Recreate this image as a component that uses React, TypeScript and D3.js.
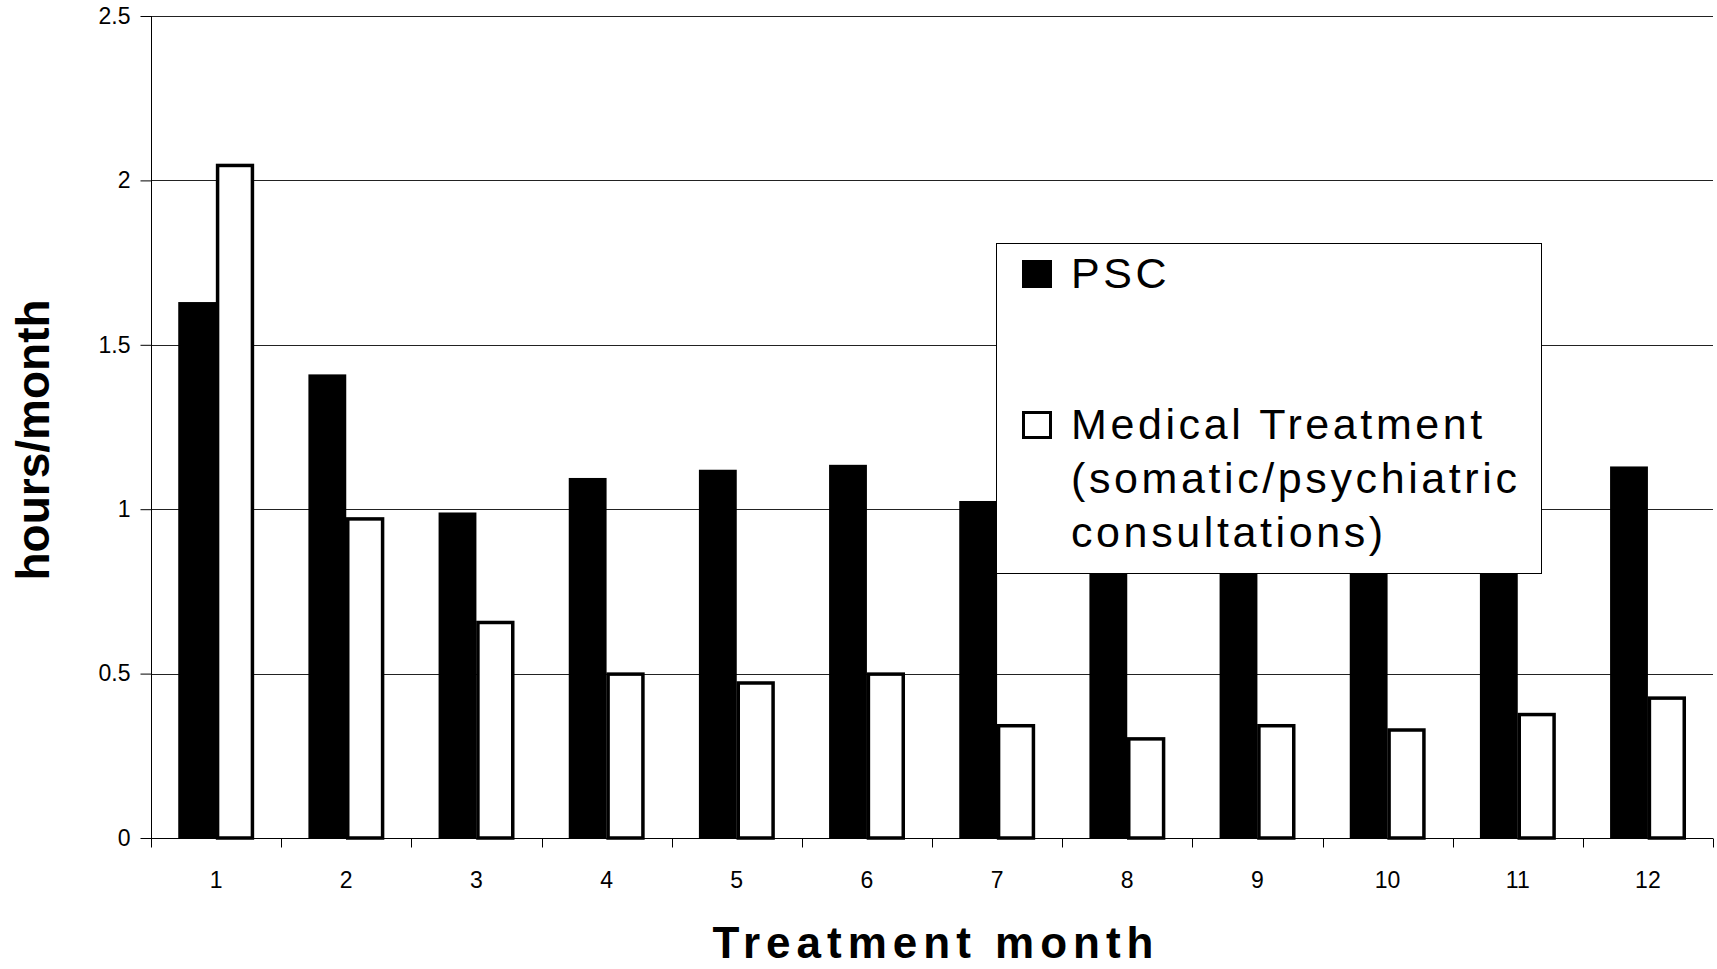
import React, { useEffect, useRef } from 'react';
import * as d3 from 'd3';

const months = ['1', '2', '3', '4', '5', '6', '7', '8', '9', '10', '11', '12'];
const pscHours = [1.63, 1.41, 0.99, 1.095, 1.12, 1.135, 1.025, 1.04, 1.07, 1.03, 1.08, 1.13];
const medicalHours = [2.05, 0.975, 0.66, 0.503, 0.476, 0.503, 0.346, 0.306, 0.346, 0.333, 0.38, 0.43];
const yTicks = [0, 0.5, 1, 1.5, 2, 2.5];
const seriesKeys = ['psc', 'medical'];
const legendLines = [['PSC'], ['Medical Treatment', '(somatic/psychiatric', 'consultations)']];

const FONT = '"Liberation Sans", Arial, Helvetica, sans-serif';

const App: React.FC = () => {
    const chartRef = useRef<SVGSVGElement | null>(null);

    useEffect(() => {
        if (!chartRef.current) return;
        const svg = d3.select(chartRef.current);
        svg.selectAll('*').remove();

        const width = 1717;
        const height = 969;
        const margin = { top: 16, right: 4, bottom: 131, left: 151 };

        svg.attr('width', width).attr('height', height).style('font-family', FONT);

        const x = d3.scaleBand()
            .domain(months)
            .range([margin.left, width - margin.right])
            .padding(0);

        const inner = d3.scaleBand()
            .domain(seriesKeys)
            .range([0, x.step()])
            .paddingInner(0)
            .paddingOuter(0.72);

        const y = d3.scaleLinear()
            .domain([0, 2.5])
            .range([height - margin.bottom, margin.top]);

        // gridlines
        svg.append('g')
            .selectAll('line')
            .data(yTicks.filter(d => d > 0))
            .enter().append('line')
            .attr('x1', margin.left)
            .attr('x2', width - margin.right)
            .attr('y1', d => Math.round(y(d)) + 0.5)
            .attr('y2', d => Math.round(y(d)) + 0.5)
            .attr('stroke', '#222')
            .attr('stroke-width', 1);

        const data = months.map((m, i) => ({ month: m, psc: pscHours[i], medical: medicalHours[i] }));

        const groups = svg.append('g')
            .selectAll('g')
            .data(data)
            .enter().append('g')
            .attr('transform', d => `translate(${x(d.month)},0)`);

        groups.append('rect')
            .attr('x', inner('psc') as number)
            .attr('y', d => y(d.psc))
            .attr('width', inner.bandwidth())
            .attr('height', d => y(0) - y(d.psc))
            .attr('fill', '#000');

        groups.append('rect')
            .attr('x', (inner('medical') as number) + 1.5)
            .attr('y', d => y(d.medical) + 1.5)
            .attr('width', inner.bandwidth() - 3)
            .attr('height', d => y(0) - y(d.medical) - 1.5)
            .attr('fill', '#fff')
            .attr('stroke', '#000')
            .attr('stroke-width', 3.5);

        // y axis
        const yAxis = svg.append('g')
            .attr('transform', `translate(${margin.left + 0.5},0)`)
            .call(d3.axisLeft(y).tickValues(yTicks).tickFormat(d => String(d)).tickSize(11).tickPadding(10));
        yAxis.select('.domain').attr('stroke', '#000').attr('d', `M0,${y(2.5)}V${y(0)}`);
        yAxis.selectAll('text').attr('font-size', 23).attr('font-family', FONT).attr('fill', '#000');

        // x axis
        const xAxisG = svg.append('g')
            .attr('transform', `translate(0,${Math.round(y(0)) + 0.5})`);
        xAxisG.append('line')
            .attr('x1', margin.left)
            .attr('x2', width - margin.right)
            .attr('stroke', '#000');
        const boundaries = months.map(m => x(m) as number).concat([x.range()[1]]);
        xAxisG.selectAll('.xtick')
            .data(boundaries)
            .enter().append('line')
            .attr('class', 'xtick')
            .attr('x1', d => Math.round(d) + 0.5)
            .attr('x2', d => Math.round(d) + 0.5)
            .attr('y1', 0)
            .attr('y2', 9)
            .attr('stroke', '#000');
        xAxisG.selectAll('.xlabel')
            .data(months)
            .enter().append('text')
            .attr('class', 'xlabel')
            .attr('x', d => (x(d) as number) + x.bandwidth() / 2)
            .attr('y', 49)
            .attr('text-anchor', 'middle')
            .attr('font-size', 23)
            .text(d => d);

        // axis titles
        svg.append('text')
            .attr('transform', `translate(49,${440}) rotate(-90)`)
            .attr('text-anchor', 'middle')
            .attr('font-size', 46)
            .attr('font-weight', 'bold')
            .text('hours/month');

        svg.append('text')
            .attr('x', (margin.left + width - margin.right) / 2 + 4)
            .attr('y', 958)
            .attr('text-anchor', 'middle')
            .attr('font-size', 44)
            .attr('font-weight', 'bold')
            .attr('letter-spacing', 6)
            .text('Treatment month');

        // legend
        const legend = svg.append('g').attr('transform', 'translate(996,243)');
        legend.append('rect')
            .attr('x', 0.5)
            .attr('y', 0.5)
            .attr('width', 545)
            .attr('height', 330)
            .attr('fill', '#fff')
            .attr('stroke', '#000')
            .attr('stroke-width', 1);

        const entryTop = [17, 168];
        seriesKeys.forEach((key, i) => {
            legend.append('rect')
                .attr('x', key === 'psc' ? 26 : 27.5)
                .attr('y', entryTop[i] + (key === 'psc' ? 0 : 1.5))
                .attr('width', key === 'psc' ? 30 : 27)
                .attr('height', key === 'psc' ? 28 : 25)
                .attr('fill', key === 'psc' ? '#000' : '#fff')
                .attr('stroke', '#000')
                .attr('stroke-width', key === 'psc' ? 0 : 3);
            legend.append('text')
                .attr('x', 75)
                .attr('y', entryTop[i] + 28)
                .attr('font-size', 43)
                .attr('letter-spacing', 3.6)
                .selectAll('tspan')
                .data(legendLines[i])
                .enter().append('tspan')
                .attr('x', 75)
                .attr('dy', (_, j) => (j === 0 ? 0 : 54))
                .text(d => d);
        });
    }, []);

    return (
        <div style={{ position: 'absolute', left: 0, top: 0, background: '#fff' }}>
            <svg ref={chartRef} />
        </div>
    );
};

export default App;
